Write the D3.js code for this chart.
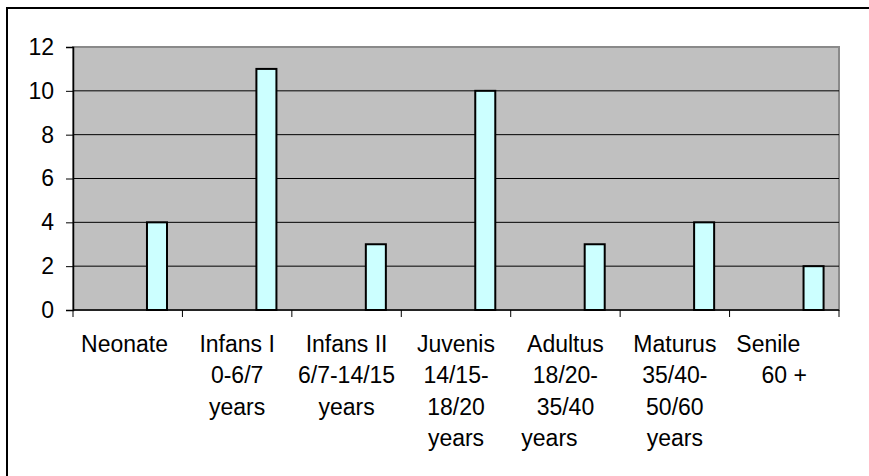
<!DOCTYPE html>
<html>
<head>
<meta charset="utf-8">
<script src="https://cdn.jsdelivr.net/npm/d3@7"></script>
<style>
  body { margin: 0; background: #fff; }
  text { font-family: "Liberation Sans", Arial, sans-serif; }
</style>
</head>
<body>
<script>
// categories (lines of each axis label) and values
var categories = ["Neonate", "Infans I", "Infans II", "Juvenis", "Adultus", "Maturus", "Senile"];
var labelLines = [
    ["Neonate "],
    ["Infans I", "0-6/7", "years"],
    ["Infans II", "6/7-14/15", "years"],
    ["Juvenis", "14/15-", "18/20", "years"],
    ["Adultus", "18/20-", "35/40", "years     "],
    ["Maturus", "35/40-", "50/60", "years"],
    ["Senile     ", "60 +"]
];
var values = [4, 11, 3, 10, 3, 4, 2];
var yTicks = [0, 2, 4, 6, 8, 10, 12];

function init(){
    var w = 869;
    var h = 476;
    var left = 73, right = 839, top = 47, bottom = 310;

    var svg = d3.select("body")
                .append("svg")
                .attr("width", w)
                .attr("height", h);

    // outer chart frame (cut off at right and bottom)
    svg.append("rect")
        .attr("x", 7)
        .attr("y", 8)
        .attr("width", w + 20)
        .attr("height", h + 20)
        .attr("fill", "#fff")
        .attr("stroke", "#000")
        .attr("stroke-width", 2);

    var xScale = d3.scaleBand()
                    .domain(categories)
                    .range([left, right])
                    .padding(0);

    var yScale = d3.scaleLinear()
                    .domain([0, 12])
                    .range([bottom, top]);

    var bw = xScale.bandwidth();

    // plot area
    svg.append("rect")
        .attr("x", left)
        .attr("y", top)
        .attr("width", right - left)
        .attr("height", bottom - top)
        .attr("fill", "#c0c0c0")
        .attr("stroke", "#8a8a8a")
        .attr("stroke-width", 2);

    // gridlines
    svg.selectAll("line.grid")
        .data(yTicks.filter(function(d) { return d > 0 && d < 12; }))
        .enter()
        .append("line")
        .attr("class", "grid")
        .attr("x1", left)
        .attr("x2", right)
        .attr("y1", function(d) { return yScale(d); })
        .attr("y2", function(d) { return yScale(d); })
        .attr("stroke", "#000")
        .attr("stroke-width", 1);

    // bars
    svg.selectAll("rect.bar")
        .data(values)
        .enter()
        .append("rect")
        .attr("class", "bar")
        .attr("x", function(d, i) {
            return xScale(categories[i]) + bw * 0.676;
        })
        .attr("y", function(d) {
            return yScale(d);
        })
        .attr("width", bw * 0.183)
        .attr("height", function(d) {
            return bottom - yScale(d);
        })
        .attr("fill", "#ccffff")
        .attr("stroke", "#000")
        .attr("stroke-width", 2);

    // y axis
    var yAxis = d3.axisLeft(yScale)
                    .tickValues(yTicks)
                    .tickSize(7)
                    .tickPadding(12);
    var gy = svg.append("g")
        .attr("transform", "translate(" + left + ",0)")
        .call(yAxis);
    gy.select(".domain").attr("stroke", "#000").attr("stroke-width", 1.5);
    gy.selectAll(".tick line").attr("stroke", "#000");
    gy.selectAll("text")
        .attr("font-size", "23px")
        .attr("fill", "#000")
        .attr("font-family", "Liberation Sans, Arial, sans-serif");

    // x axis line and ticks at band edges
    svg.append("line")
        .attr("x1", left)
        .attr("x2", right)
        .attr("y1", bottom)
        .attr("y2", bottom)
        .attr("stroke", "#000")
        .attr("stroke-width", 1.5);

    var edges = categories.map(function(c) { return xScale(c); }).concat([right]);
    svg.selectAll("line.xtick")
        .data(edges)
        .enter()
        .append("line")
        .attr("class", "xtick")
        .attr("x1", function(d) { return d; })
        .attr("x2", function(d) { return d; })
        .attr("y1", bottom)
        .attr("y2", bottom + 7)
        .attr("stroke", "#000");

    // category labels
    var labels = svg.selectAll("text.xlab")
        .data(labelLines)
        .enter()
        .append("text")
        .attr("class", "xlab")
        .attr("font-size", "23px")
        .attr("fill", "#000")
        .attr("text-anchor", "middle")
        .style("white-space", "pre");

    labels.selectAll("tspan")
        .data(function(d, i) {
            return d.map(function(t) { return { t: t, c: categories[i] }; });
        })
        .enter()
        .append("tspan")
        .attr("x", function(d) { return xScale(d.c) + bw / 2; })
        .attr("y", function(d, j) { return 352 + j * 31.3; })
        .text(function(d) { return d.t; });
}

window.onload = init;
</script>
</body>
</html>
